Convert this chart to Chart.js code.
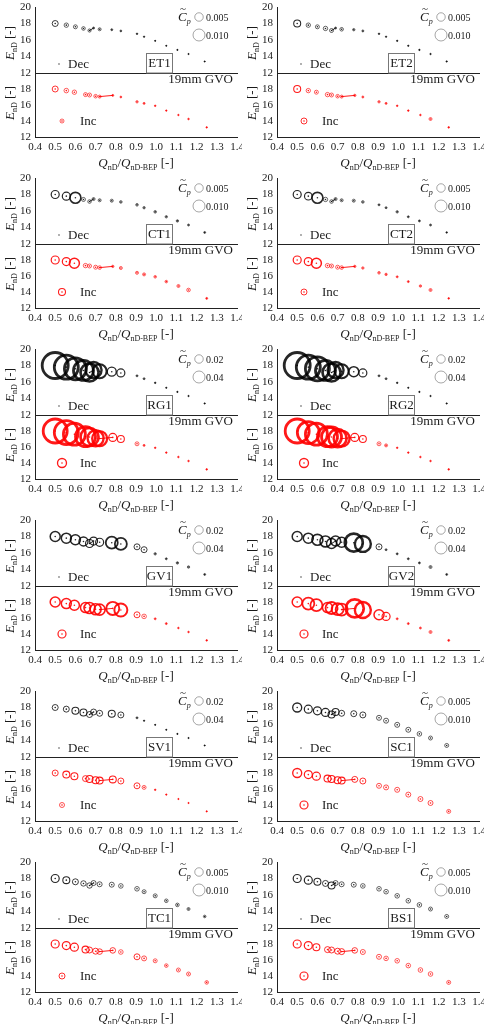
<!DOCTYPE html>
<html>
<head>
<meta charset="utf-8">
<script src="https://cdn.jsdelivr.net/npm/chart.js@4.4.0/dist/chart.umd.min.js"></script>
<style>
  body { margin: 0; background: #fff; }
  #wrap { position: relative; width: 484px; height: 1024px; overflow: hidden; }
  .panel { position: absolute; width: 242px; height: 171px; }
  .panel canvas { position: absolute; left: 0; }
</style>
</head>
<body>
<div id="wrap"></div>
<script>
// operating points, same for every sensor
const qDec = [0.50, 0.555, 0.60, 0.64, 0.67, 0.69, 0.72, 0.78, 0.825, 0.905, 0.94, 0.995, 1.05, 1.105, 1.16, 1.24];
const eDec = [18.0, 17.8, 17.6, 17.4, 17.15, 17.45, 17.3, 17.25, 17.1, 16.75, 16.4, 15.9, 15.3, 14.8, 14.3, 13.4];
const qInc = [0.50, 0.555, 0.595, 0.65, 0.67, 0.70, 0.72, 0.785, 0.825, 0.905, 0.94, 0.995, 1.05, 1.11, 1.16, 1.25];
const eInc = [18.0, 17.8, 17.6, 17.3, 17.25, 17.1, 17.05, 17.2, 17.0, 16.4, 16.2, 15.9, 15.3, 14.75, 14.25, 13.2];
const decLink = [4, 5];
const incLink = [6, 7];

const xTicks = [0.4, 0.5, 0.6, 0.7, 0.8, 0.9, 1.0, 1.1, 1.2, 1.3, 1.4];
const yTicks = [12, 14, 16, 18, 20];

// pressure amplitude Cp per sensor
const et1Dec = [0.0025, 0.00134, 0.00111, 0.0009, 0.00071, 0.00028, 0.00063, 0.00028, 0.00023, 0.00018, 0.00014, 0.0001, 0.0001, 0.0001, 0.0001, 0.0001];
const et1Inc = [0.0025, 0.00147, 0.00134, 0.00111, 0.00111, 0.0009, 0.00063, 0.00028, 0.00023, 0.0004, 0.00028, 0.00018, 0.00014, 0.00014, 0.00018, 0.00014];
const et2Dec = [0.0034, 0.00134, 0.00111, 0.00134, 0.00111, 0.00028, 0.0009, 0.0004, 0.00028, 0.00018, 0.00014, 0.00014, 0.00014, 0.00014, 0.00014, 0.00014];
const et2Inc = [0.0034, 0.00134, 0.00111, 0.00134, 0.00111, 0.0009, 0.00063, 0.0004, 0.00028, 0.0004, 0.00028, 0.00018, 0.00018, 0.00018, 0.00063, 0.00018];
const ct1Dec = [0.00444, 0.00444, 0.0084, 0.00111, 0.0009, 0.00063, 0.00063, 0.00063, 0.00047, 0.00047, 0.0004, 0.00047, 0.0004, 0.0004, 0.00028, 0.00028];
const ct1Inc = [0.00444, 0.00444, 0.00694, 0.00134, 0.00111, 0.00111, 0.0009, 0.0004, 0.00063, 0.00063, 0.00063, 0.00047, 0.00047, 0.00063, 0.0009, 0.00028];
const ct2Dec = [0.00444, 0.004, 0.0084, 0.00134, 0.0009, 0.00063, 0.00063, 0.00063, 0.00047, 0.00028, 0.00028, 0.0004, 0.00028, 0.00028, 0.00028, 0.00018];
const ct2Inc = [0.00444, 0.00444, 0.00694, 0.00134, 0.00111, 0.00111, 0.0009, 0.0004, 0.0004, 0.00047, 0.0004, 0.00028, 0.00028, 0.0004, 0.00063, 0.00018];
const rg1Dec = [0.188, 0.16, 0.134, 0.111, 0.09, 0.071, 0.054, 0.0225, 0.0178, 0.0011, 0.0011, 0.0007, 0.0005, 0.0005, 0.0005, 0.0005];
const rg1Inc = [0.16, 0.16, 0.134, 0.111, 0.09, 0.071, 0.0625, 0.0178, 0.0136, 0.0044, 0.0011, 0.0007, 0.0007, 0.0007, 0.0007, 0.0007];
const rg2Dec = [0.188, 0.16, 0.16, 0.111, 0.09, 0.071, 0.054, 0.0278, 0.0178, 0.0011, 0.0011, 0.0007, 0.0005, 0.0005, 0.0005, 0.0005];
const rg2Inc = [0.16, 0.134, 0.134, 0.111, 0.111, 0.09, 0.071, 0.0178, 0.0136, 0.0044, 0.0025, 0.0007, 0.0007, 0.0007, 0.0007, 0.0007];
const gv1Dec = [0.0278, 0.0278, 0.0278, 0.0225, 0.0178, 0.0178, 0.0178, 0.04, 0.04, 0.01, 0.01, 0.0016, 0.0011, 0.0016, 0.0016, 0.0011];
const gv1Inc = [0.0278, 0.0278, 0.0278, 0.0278, 0.0336, 0.0336, 0.0336, 0.047, 0.047, 0.01, 0.0059, 0.0011, 0.0011, 0.0007, 0.0007, 0.0007];
const gv2Dec = [0.0278, 0.0278, 0.0336, 0.0336, 0.0278, 0.0278, 0.0278, 0.09, 0.071, 0.01, 0.0011, 0.0011, 0.0011, 0.0011, 0.0025, 0.0011];
const gv2Inc = [0.0278, 0.04, 0.04, 0.0278, 0.04, 0.04, 0.04, 0.09, 0.071, 0.0278, 0.0178, 0.0011, 0.0011, 0.0011, 0.0025, 0.0011];
const sv1Dec = [0.01, 0.01, 0.0136, 0.0136, 0.01, 0.01, 0.01, 0.0136, 0.01, 0.0011, 0.0005, 0.0004, 0.0004, 0.0004, 0.0004, 0.0004];
const sv1Inc = [0.01, 0.0136, 0.0136, 0.01, 0.0136, 0.0136, 0.0136, 0.0136, 0.01, 0.01, 0.0044, 0.0007, 0.0005, 0.0004, 0.0004, 0.0004];
const sc1Dec = [0.0056, 0.00444, 0.00444, 0.00444, 0.0034, 0.0034, 0.0025, 0.0025, 0.0025, 0.00174, 0.00174, 0.00174, 0.00174, 0.00147, 0.00111, 0.00111];
const sc1Inc = [0.0056, 0.00444, 0.00444, 0.0034, 0.0034, 0.0034, 0.0034, 0.0025, 0.0025, 0.00174, 0.00174, 0.00174, 0.00174, 0.00174, 0.00174, 0.00111];
const tc1Dec = [0.00444, 0.0034, 0.0025, 0.00203, 0.00203, 0.00174, 0.00174, 0.00174, 0.00147, 0.00147, 0.00111, 0.00111, 0.0009, 0.0009, 0.00063, 0.00047];
const tc1Inc = [0.00444, 0.00444, 0.00444, 0.0034, 0.0025, 0.0025, 0.00218, 0.00218, 0.00147, 0.0025, 0.00174, 0.00111, 0.0009, 0.00111, 0.00111, 0.0009];
const bs1Dec = [0.00444, 0.00444, 0.0034, 0.0025, 0.0034, 0.00174, 0.00174, 0.00174, 0.00147, 0.00147, 0.00147, 0.00147, 0.00147, 0.00147, 0.00111, 0.00111];
const bs1Inc = [0.00444, 0.00444, 0.0034, 0.0025, 0.0025, 0.0025, 0.0025, 0.00218, 0.00174, 0.00174, 0.00147, 0.00147, 0.00147, 0.00147, 0.00147, 0.00111];

// bubble size legend
const legSmall = [0.005, 0.010];
const legSmallText = ['0.005', '0.010'];
const legLarge = [0.02, 0.04];
const legLargeText = ['0.02', '0.04'];

const FONT = '"Liberation Serif", "Times New Roman", serif';
const BLACK = 'rgba(0,0,0,0.85)';
const RED = 'rgba(255,0,0,0.9)';
const TXT = '#1a1a1a';

const small = { leg: legSmall, legText: legSmallText, k: 60 };
const large = { leg: legLarge, legText: legLargeText, k: 30 };

const panels = [
  { name: 'ET1', dec: et1Dec, inc: et1Inc, s: small, incMark: 2 },
  { name: 'ET2', dec: et2Dec, inc: et2Inc, s: small, incMark: 3 },
  { name: 'CT1', dec: ct1Dec, inc: ct1Inc, s: small, incMark: 3.5 },
  { name: 'CT2', dec: ct2Dec, inc: ct2Inc, s: small, incMark: 3 },
  { name: 'RG1', dec: rg1Dec, inc: rg1Inc, s: large, incMark: 4.5 },
  { name: 'RG2', dec: rg2Dec, inc: rg2Inc, s: large, incMark: 4.5 },
  { name: 'GV1', dec: gv1Dec, inc: gv1Inc, s: large, incMark: 4 },
  { name: 'GV2', dec: gv2Dec, inc: gv2Inc, s: large, incMark: 4 },
  { name: 'SV1', dec: sv1Dec, inc: sv1Inc, s: large, incMark: 2.5 },
  { name: 'SC1', dec: sc1Dec, inc: sc1Inc, s: small, incMark: 4 },
  { name: 'TC1', dec: tc1Dec, inc: tc1Inc, s: small, incMark: 3 },
  { name: 'BS1', dec: bs1Dec, inc: bs1Inc, s: small, incMark: 4 }
];

function rad(cp, k) { return k * Math.sqrt(cp); }
function lw(r) { return Math.min(2.8, Math.max(0.7, r * 0.3)); }

// draw a row of text pieces (italic letters, subscripts)
function runs(ctx, parts, x, y, align) {
  let w = 0;
  parts.forEach(p => { ctx.font = p.f; w += ctx.measureText(p.t).width; });
  let cx = align === 'center' ? x - w / 2 : x;
  ctx.textAlign = 'left';
  ctx.textBaseline = 'alphabetic';
  parts.forEach(p => {
    ctx.font = p.f;
    ctx.fillText(p.t, cx, y + (p.dy || 0));
    cx += ctx.measureText(p.t).width;
  });
}

const eTitle = [
  { t: 'E', f: 'italic 13px ' + FONT },
  { t: 'nD', f: '8px ' + FONT, dy: 3 },
  { t: ' [-]', f: '13px ' + FONT }
];
const qTitle = [
  { t: 'Q', f: 'italic 13px ' + FONT },
  { t: 'nD', f: '8px ' + FONT, dy: 3 },
  { t: '/', f: '13px ' + FONT },
  { t: 'Q', f: 'italic 13px ' + FONT },
  { t: 'nD-BEP', f: '8px ' + FONT, dy: 3 },
  { t: ' [-]', f: '13px ' + FONT }
];

const deco = {
  id: 'deco',
  afterDraw(chart, args, o) {
    const ctx = chart.ctx, a = chart.chartArea;
    ctx.save();
    ctx.fillStyle = TXT;
    // y title
    ctx.save();
    ctx.translate(14, o.top ? a.top + 36 : a.top + 30);
    ctx.rotate(-Math.PI / 2);
    runs(ctx, eTitle, 0, 0, 'center');
    ctx.restore();

    if (o.top) {
      const s = o.p.s;
      // Cp legend
      ctx.fillStyle = TXT;
      runs(ctx, [{ t: 'C', f: 'italic 13px ' + FONT }, { t: 'p', f: 'italic 8px ' + FONT, dy: 3 }], a.left + 143, a.top + 14, 'left');
      ctx.font = '11px ' + FONT;
      ctx.textAlign = 'center';
      ctx.fillText('~', a.left + 148, a.top + 5);
      const ys = [a.top + 10, a.top + 28];
      s.leg.forEach((v, j) => {
        const r = rad(v, s.k);
        ctx.beginPath();
        ctx.arc(a.left + 164, ys[j], r, 0, Math.PI * 2);
        ctx.strokeStyle = 'rgba(0,0,0,0.35)';
        ctx.lineWidth = 1;
        ctx.stroke();
        ctx.fillStyle = TXT;
        ctx.font = '10px ' + FONT;
        ctx.textAlign = 'left';
        ctx.textBaseline = 'middle';
        ctx.fillText(s.legText[j], a.left + 171, ys[j] + 1);
      });
      // series label
      ctx.beginPath();
      ctx.arc(a.left + 24, a.bottom - 9, 0.9, 0, Math.PI * 2);
      ctx.fillStyle = 'rgba(0,0,0,0.45)';
      ctx.fill();
      ctx.fillStyle = TXT;
      ctx.font = '13px ' + FONT;
      ctx.textAlign = 'left';
      ctx.textBaseline = 'middle';
      ctx.fillText('Dec', a.left + 33, a.bottom - 8);
      // sensor box
      ctx.strokeStyle = '#777';
      ctx.lineWidth = 1;
      ctx.strokeRect(a.left + 111.5, a.bottom - 19.5, 26, 19.5);
      ctx.font = '13px ' + FONT;
      ctx.textAlign = 'center';
      ctx.fillText(o.p.name, a.left + 124.5, a.bottom - 9);
    } else {
      ctx.font = '13px ' + FONT;
      ctx.textAlign = 'right';
      ctx.textBaseline = 'middle';
      ctx.fillText('19mm GVO', a.right - 4, a.top + 7);
      ctx.beginPath();
      ctx.arc(a.left + 27, a.top + 48, o.p.incMark, 0, Math.PI * 2);
      ctx.strokeStyle = RED;
      ctx.lineWidth = lw(o.p.incMark);
      ctx.stroke();
      ctx.beginPath();
      ctx.arc(a.left + 27, a.top + 48, 0.8, 0, Math.PI * 2);
      ctx.fillStyle = RED;
      ctx.fill();
      ctx.fillStyle = TXT;
      ctx.textAlign = 'left';
      ctx.fillText('Inc', a.left + 45, a.top + 49);
      runs(ctx, qTitle, (a.left + a.right) / 2, a.bottom + 30, 'center');
    }
    ctx.restore();
  }
};

function noPad(s) { s.paddingLeft = 0; s.paddingRight = 0; s.paddingTop = 0; s.paddingBottom = 0; }

function subplot(canvas, q, e, cp, link, color, top, p) {
  const k = p.s.k;
  const pts = q.map((x, j) => ({ x: x, y: e[j] }));
  return new Chart(canvas, {
    type: 'scatter',
    data: {
      datasets: [
        { data: pts, pointRadius: 0.8, pointBorderWidth: 0, pointBackgroundColor: color, clip: false },
        { data: link.map(j => ({ x: q[j], y: e[j] })), showLine: true, borderColor: color, borderWidth: 1, pointRadius: 0, clip: false },
        {
          data: pts,
          pointRadius: c => rad(cp[c.dataIndex], k),
          pointBorderWidth: c => lw(rad(cp[c.dataIndex], k)),
          pointBorderColor: color,
          pointBackgroundColor: 'rgba(0,0,0,0)',
          clip: false
        }
      ]
    },
    options: {
      responsive: false,
      animation: false,
      events: [],
      layout: { autoPadding: false, padding: { top: top ? 7 : 0, right: 5, bottom: top ? 10 : 0, left: 0 } },
      plugins: { legend: { display: false }, tooltip: { enabled: false }, deco: { top: top, p: p } },
      scales: {
        x: {
          type: 'linear', min: 0.4, max: 1.4,
          afterBuildTicks: s => { s.ticks = xTicks.map(v => ({ value: v })); },
          afterFit: s => { s.height = top ? 1 : 34; noPad(s); },
          ticks: { display: !top, autoSkip: false, maxRotation: 0, padding: 4, color: TXT,
                   font: { family: FONT, size: 11 }, callback: v => v.toFixed(1) },
          grid: { display: false, drawTicks: false },
          border: { display: true, color: '#222', width: 1 }
        },
        y: {
          type: 'linear', min: 12, max: 20,
          afterBuildTicks: s => { s.ticks = yTicks.map(v => ({ value: v })); },
          afterFit: s => { s.width = 35; noPad(s); },
          ticks: { autoSkip: false, padding: 4, color: TXT, font: { family: FONT, size: 11 },
                   callback: v => (top || v < 20) ? String(v) : '' },
          grid: { display: false, drawTicks: false },
          border: { display: true, color: '#222', width: 1 }
        }
      }
    },
    plugins: [deco]
  });
}

const wrap = document.getElementById('wrap');
panels.forEach((p, i) => {
  const div = document.createElement('div');
  div.className = 'panel';
  div.style.left = (i % 2) * 242 + 'px';
  div.style.top = Math.floor(i / 2) * 171 + 'px';
  const c1 = document.createElement('canvas');
  c1.width = 242; c1.height = 84; c1.style.top = '0px';
  const c2 = document.createElement('canvas');
  c2.width = 242; c2.height = 98; c2.style.top = '73px';
  div.appendChild(c1);
  div.appendChild(c2);
  wrap.appendChild(div);
  subplot(c1, qDec, eDec, p.dec, decLink, BLACK, true, p);
  subplot(c2, qInc, eInc, p.inc, incLink, RED, false, p);
});
</script>
</body>
</html>
